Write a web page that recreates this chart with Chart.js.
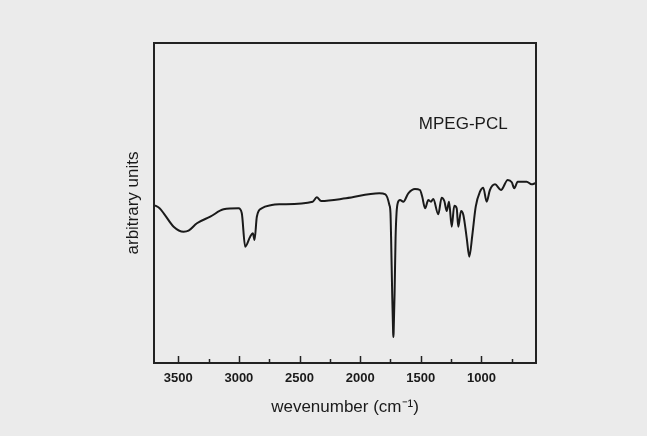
<!DOCTYPE html>
<html>
<head>
<meta charset="utf-8">
<script src="https://cdn.jsdelivr.net/npm/chart.js@4"></script>
<style>
  html, body { margin: 0; padding: 0; background: #ebebeb; }
  #wrap { width: 647px; height: 436px; }
</style>
</head>
<body>
<div id="wrap"><canvas id="ftir"></canvas></div>
<script>
// FTIR spectrum of MPEG-PCL
const wavenumbers = [3700, 3654, 3620, 3538, 3456, 3415, 3346, 3236, 3126, 3003, 2976, 2948, 2907, 2885, 2871,
  2852, 2811, 2729, 2665, 2391, 2358, 2322, 2116, 1842, 1792, 1759, 1750, 1745, 1736, 1728, 1726, 1724, 1716,
  1708, 1700, 1690, 1671, 1644, 1603, 1548, 1507, 1488, 1465, 1438, 1416, 1397, 1356, 1328, 1306, 1286, 1267,
  1245, 1224, 1204, 1191, 1168, 1149, 1121, 1100, 1075, 1047, 1012, 985, 957, 930, 888, 839, 783, 750, 729,
  701, 627, 586, 558, 550];
const intensity = [158, 154.7, 149.7, 136.3, 131.3, 132.3, 139.7, 146.3, 153.7, 154.7, 149.7, 116.3, 126.3, 129.7, 123,
  146.3, 154.7, 158, 158.7, 161.3, 165.7, 162, 164.7, 169.7, 168.7, 158, 150, 126, 70, 30, 26, 30, 70,
  125, 150, 160, 163, 161.3, 169.7, 174, 173, 166.3, 154.7, 163, 161.3, 164, 148.7, 165.3, 162, 152, 161.3,
  136.3, 157.3, 154.7, 136.3, 152, 148, 124.7, 106.3, 128, 156.3, 171.3, 175.3, 161.3, 173, 178.7, 173, 183, 180.7, 174.7,
  181.3, 181.3, 178.7, 179.7, 180];
const majorTicks = [3500, 3000, 2500, 2000, 1500, 1000];
const minorTicks = [3250, 2750, 2250, 1750, 1250, 750];
const sampleLabel = 'MPEG-PCL';

const points = wavenumbers.map((w, i) => ({ x: w, y: intensity[i] }));

// frame + inward ticks + sample label
const framePlugin = {
  id: 'frame',
  afterDraw(chart) {
    const { ctx, chartArea: a, scales } = chart;
    ctx.save();
    ctx.strokeStyle = '#222';
    ctx.lineWidth = 2;
    ctx.strokeRect(a.left, a.top, a.right - a.left, a.bottom - a.top);
    ctx.lineWidth = 1.5;
    ctx.beginPath();
    majorTicks.forEach(v => {
      const x = Math.round(scales.x.getPixelForValue(v)) + 0.5;
      ctx.moveTo(x, a.bottom); ctx.lineTo(x, a.bottom - 7);
    });
    minorTicks.forEach(v => {
      const x = Math.round(scales.x.getPixelForValue(v)) + 0.5;
      ctx.moveTo(x, a.bottom); ctx.lineTo(x, a.bottom - 4);
    });
    ctx.stroke();
    ctx.fillStyle = '#1a1a1a';
    ctx.font = '17px "Liberation Sans", Arial, sans-serif';
    ctx.textAlign = 'center';
    ctx.textBaseline = 'middle';
    ctx.fillText(sampleLabel, scales.x.getPixelForValue(1150), scales.y.getPixelForValue(239));
    ctx.restore();
  }
};

new Chart(document.getElementById('ftir'), {
  type: 'line',
  data: {
    datasets: [{
      data: points,
      borderColor: '#1a1a1a',
      borderWidth: 2,
      pointRadius: 0,
      cubicInterpolationMode: 'monotone',
      fill: false
    }]
  },
  options: {
    responsive: true,
    maintainAspectRatio: false,
    animation: false,
    layout: { padding: { top: 43, right: 111, left: 0, bottom: 0 } },
    plugins: { legend: { display: false }, tooltip: { enabled: false } },
    scales: {
      x: {
        type: 'linear',
        reverse: true,
        min: 550,
        max: 3700,
        grid: { display: false, drawTicks: false },
        border: { display: false },
        afterBuildTicks: s => { s.ticks = majorTicks.map(v => ({ value: v })); },
        afterFit: s => { s.height = 73; },
        ticks: {
          padding: 8,
          color: '#1a1a1a',
          maxRotation: 0,
          callback: v => String(v),
          font: { family: '"Liberation Sans", Arial, sans-serif', size: 13, weight: 'bold' }
        },
        title: {
          display: true,
          text: 'wevenumber (cm⁻¹)',
          color: '#1a1a1a',
          padding: { top: 0, bottom: 18 },
          font: { family: '"Liberation Sans", Arial, sans-serif', size: 17 }
        }
      },
      y: {
        min: 0,
        max: 320,
        grid: { display: false, drawTicks: false },
        border: { display: false },
        ticks: { display: false },
        afterFit: s => { s.width = 154; },
        title: {
          display: true,
          text: 'arbitrary units',
          color: '#1a1a1a',
          padding: { top: 123, bottom: 0 },
          font: { family: '"Liberation Sans", Arial, sans-serif', size: 17 }
        }
      }
    }
  },
  plugins: [framePlugin]
});
</script>
</body>
</html>
